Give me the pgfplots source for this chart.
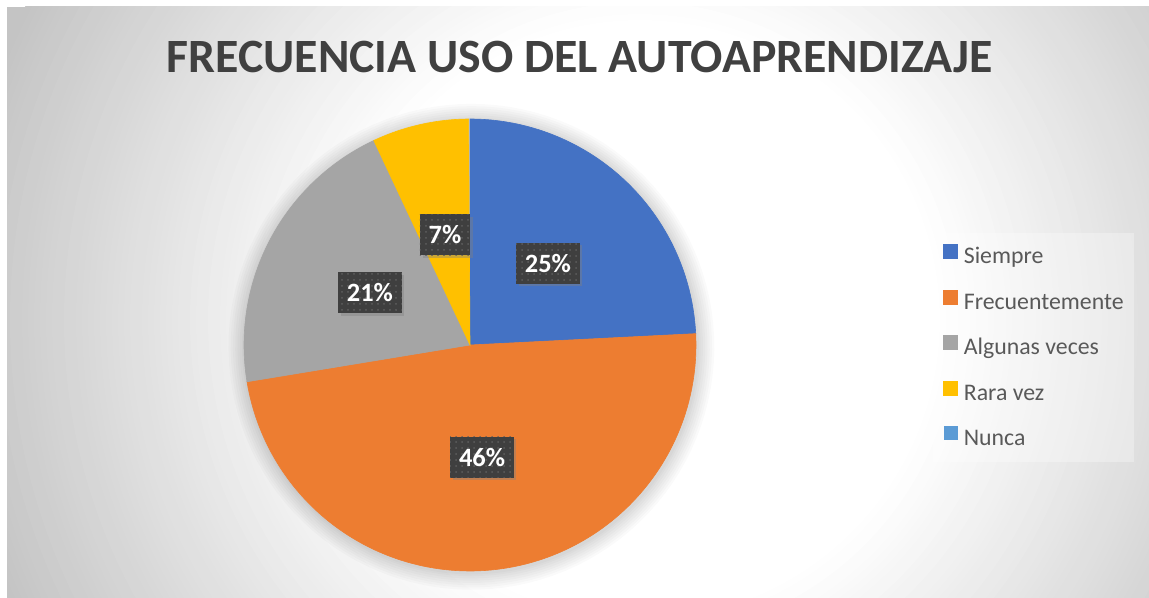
\documentclass[border=0pt]{standalone}
\usepackage{fontspec}
\setmainfont{Carlito}
\usepackage{pgfplots}
\pgfplotsset{compat=1.18}
\usepackage{pgfplotstable}
\usetikzlibrary{patterns,shadows}
\definecolor{cblue}{HTML}{4472C4}
\definecolor{corange}{HTML}{ED7D31}
\definecolor{cgray}{HTML}{A5A5A5}
\definecolor{cyellow}{HTML}{FFC000}
\definecolor{cnunca}{HTML}{5B9BD5}
\definecolor{titlec}{HTML}{404040}
\definecolor{legc}{HTML}{595959}
\definecolor{lblbg}{HTML}{3F3F3F}
\definecolor{dotc}{HTML}{5E5E5E}
\definecolor{bgedge}{HTML}{C4C4C4}
\tikzset{lbl/.style={fill=lblbg, postaction={pattern=dots, pattern color=dotc},
    text=white, font=\bfseries\fontsize{13.2}{15}\selectfont,
    inner xsep=4.4pt, minimum height=20.5pt,
    drop shadow={shadow xshift=1.3pt, shadow yshift=-1.3pt, opacity=0.4}}}
\pgfplotsset{glow/.style={forget plot, fill=black, fill opacity=0.018, draw=none, domain=0:360, samples=120}}
\pgfplotstableread{
cat value label
1 24.2 25
2 48.2 46
3 20.6 21
4 6.9 7
5 0 0
}\piedata
\begin{document}%
\begin{tikzpicture}
\pgfplotstablegetelem{0}{value}\of\piedata \pgfmathsetmacro\vA{\pgfplotsretval}
\pgfplotstablegetelem{1}{value}\of\piedata \pgfmathsetmacro\vB{\pgfplotsretval}
\pgfplotstablegetelem{2}{value}\of\piedata \pgfmathsetmacro\vC{\pgfplotsretval}
\pgfplotstablegetelem{3}{value}\of\piedata \pgfmathsetmacro\vD{\pgfplotsretval}
\pgfplotstablegetelem{0}{label}\of\piedata \edef\lA{\pgfplotsretval}
\pgfplotstablegetelem{1}{label}\of\piedata \edef\lB{\pgfplotsretval}
\pgfplotstablegetelem{2}{label}\of\piedata \edef\lC{\pgfplotsretval}
\pgfplotstablegetelem{3}{label}\of\piedata \edef\lD{\pgfplotsretval}
\pgfmathsetmacro\aA{0}
\pgfmathsetmacro\aB{\aA+3.6*\vA}
\pgfmathsetmacro\aC{\aB+3.6*\vB}
\pgfmathsetmacro\aD{\aC+3.6*\vC}
\pgfmathsetmacro\aE{\aD+3.6*\vD}
\pgfmathsetmacro\mA{(\aA+\aB)/2}
\pgfmathsetmacro\mB{(\aB+\aC)/2}
\pgfmathsetmacro\mC{(\aC+\aD)/2}
\pgfmathsetmacro\mD{(\aD+\aE)/2}
% canvas
\useasboundingbox (0pt,0pt) rectangle (574.5pt,-299pt);
\begin{scope}
\clip (3.5pt,-3.5pt) rectangle (574.5pt,-299pt);
\fill[bgedge] (3.5pt,-3.5pt) rectangle (574.5pt,-299pt);
\foreach \r in {345,342,...,150} {
  \pgfmathtruncatemacro\p{(\r-150)/1.95}
  \fill[bgedge!\p!white] (320pt,-160pt) circle (\r pt);
}
\end{scope}
\node[anchor=base, text=titlec, font=\bfseries\fontsize{23.9}{28}\selectfont] at (289.75pt,-36.5pt) {FRECUENCIA USO DEL AUTOAPRENDIZAJE};
\begin{axis}[
  at={(235pt,-172.5pt)}, anchor=center,
  width=226pt, height=226pt, scale only axis,
  xmin=-1, xmax=1, ymin=-1, ymax=1,
  hide axis, clip=false,
  legend style={at={(1.524,0.748)}, anchor=north west, draw=none,
    fill=white, fill opacity=0.3, text opacity=1,
    inner xsep=5pt, inner ysep=5.5pt, row sep=10.1pt, column sep=3pt,
    nodes={inner sep=0pt, text height=9pt, text depth=3pt},
    font=\fontsize{11.9}{14}\selectfont, text=legc},
  legend cell align=left,
  legend image code/.code={\fill[#1, fill opacity=1] (0pt,-0.5pt) rectangle (7pt,6.5pt);},
]
% soft shadow around the pie
\addplot[glow] ({1.075*sin(x)+0.006},{1.075*cos(x)-0.008}) -- cycle;
\addplot[glow] ({1.065*sin(x)+0.006},{1.065*cos(x)-0.008}) -- cycle;
\addplot[glow] ({1.055*sin(x)+0.006},{1.055*cos(x)-0.008}) -- cycle;
\addplot[glow] ({1.045*sin(x)+0.006},{1.045*cos(x)-0.008}) -- cycle;
\addplot[glow] ({1.035*sin(x)+0.006},{1.035*cos(x)-0.008}) -- cycle;
\addplot[glow] ({1.025*sin(x)+0.006},{1.025*cos(x)-0.008}) -- cycle;
\addplot[glow] ({1.015*sin(x)+0.006},{1.015*cos(x)-0.008}) -- cycle;
\addplot[glow] ({1.007*sin(x)+0.006},{1.007*cos(x)-0.008}) -- cycle;
% slices
\addplot[fill=cblue, draw=cblue, line width=0.3pt, domain=\aA:\aB, samples=80] ({sin(x)},{cos(x)}) -- (axis cs:0,0) -- cycle;
\addlegendentry{Siempre}
\addplot[fill=corange, draw=corange, line width=0.3pt, domain=\aB:\aC, samples=120] ({sin(x)},{cos(x)}) -- (axis cs:0,0) -- cycle;
\addlegendentry{Frecuentemente}
\addplot[fill=cgray, draw=cgray, line width=0.3pt, domain=\aC:\aD, samples=80] ({sin(x)},{cos(x)}) -- (axis cs:0,0) -- cycle;
\addlegendentry{Algunas veces}
\addplot[fill=cyellow, draw=cyellow, line width=0.3pt, domain=\aD:\aE, samples=40] ({sin(x)},{cos(x)}) -- (axis cs:0,0) -- cycle;
\addlegendentry{Rara vez}
\addlegendimage{fill=cnunca, draw=none}
\addlegendentry{Nunca}
% data labels
\node[lbl] at (axis cs:{0.5*sin(\mA)},{0.5*cos(\mA)}) {\lA\%};
\node[lbl] at (axis cs:{0.5*sin(\mB)},{0.5*cos(\mB)}) {\lB\%};
\node[lbl] at (axis cs:{0.5*sin(\mC)},{0.5*cos(\mC)}) {\lC\%};
\node[lbl] at (axis cs:{0.5*sin(\mD)},{0.5*cos(\mD)}) {\lD\%};
\end{axis}
\end{tikzpicture}%
\end{document}
